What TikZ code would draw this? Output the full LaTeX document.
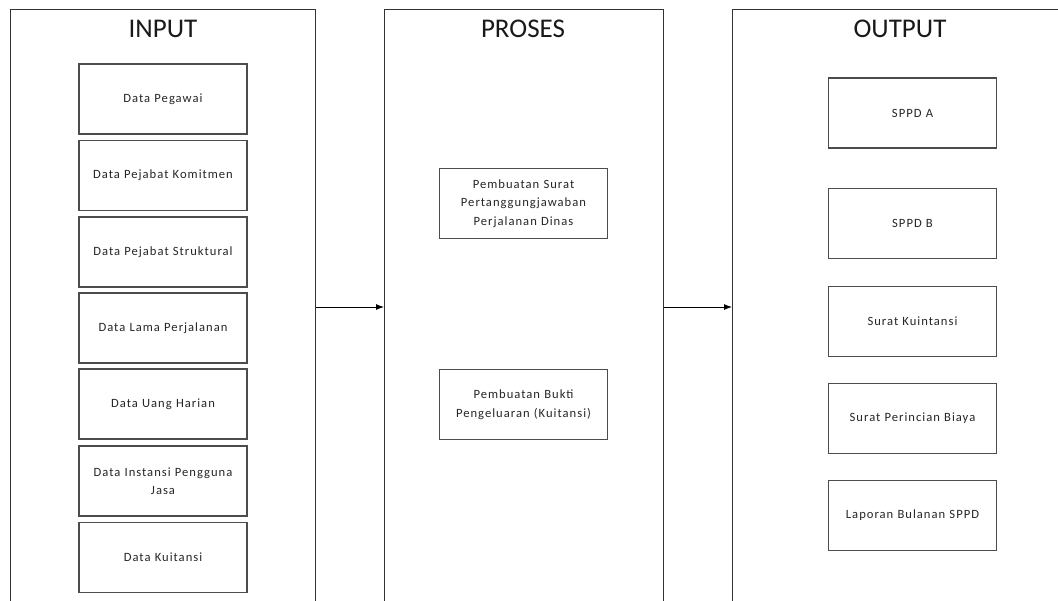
\documentclass[tikz,border=0pt]{standalone}
\usepackage{fontspec}
\setmainfont{Carlito}
\newfontfamily\boxfont[LetterSpace=8]{Carlito}
\usetikzlibrary{arrows.meta}
\begin{document}
\begin{tikzpicture}[x=1pt,y=-1pt,
  frame/.style={draw=black!80,line width=1.1pt,rectangle,inner sep=0pt,anchor=north west},
  title/.style={font=\fontsize{27}{30}\selectfont,text=black!90},
  item/.style={draw=black!70,line width=1.1pt,rectangle,minimum width=168pt,minimum height=70pt,
    align=center,text width=164pt,inner sep=0pt,font=\boxfont\fontsize{12.6}{18.5}\selectfont,text=black!85},
  flow/.style={draw=black,line width=0.9pt,-{Latex[length=8pt,width=6pt]}}]
\useasboundingbox (0,0) rectangle (1058,600);
\clip (0,0) rectangle (1058,600);
\fill[white] (0,0) rectangle (1058,600);

% three column frames (running past the lower edge)
\node[frame,minimum width=305pt,minimum height=620pt] (inbox) at (10,9) {};
\node[frame,minimum width=279pt,minimum height=620pt] (procbox) at (384,9) {};
\node[frame,minimum width=336pt,minimum height=620pt] (outbox) at (732,9) {};

\node[title] (tin) at (163,29) {INPUT};
\node[title] (tproc) at (523,29) {PROSES};
\node[title] (tout) at (900,29) {OUTPUT};

% input data
\node[item] (i1) at (163,99) {Data Pegawai};
\node[item] (i2) at (163,175.5) {Data Pejabat Komitmen};
\node[item] (i3) at (163,252) {Data Pejabat Struktural};
\node[item] (i4) at (163,328) {Data Lama Perjalanan};
\node[item] (i5) at (163,404) {Data Uang Harian};
\node[item] (i6) at (163,481) {Data Instansi Pengguna\\Jasa};
\node[item] (i7) at (163,557.5) {Data Kuitansi};

% processes
\node[item] (p1) at (523.5,203.5) {Pembuatan Surat\\Pertanggungjawaban\\Perjalanan Dinas};
\node[item] (p2) at (523.5,404.5) {Pembuatan Bukti\\Pengeluaran (Kuitansi)};

% outputs
\node[item] (o1) at (912.5,113) {SPPD A};
\node[item] (o2) at (912.5,223.5) {SPPD B};
\node[item] (o3) at (912.5,321.5) {Surat Kuintansi};
\node[item] (o4) at (912.5,418.5) {Surat Perincian Biaya};
\node[item] (o5) at (912.5,515.5) {Laporan Bulanan SPPD};

% flow between the columns
\coordinate (flowy) at (0,307);
\draw[flow] (inbox.east |- flowy) -- (procbox.west |- flowy);
\draw[flow] (procbox.east |- flowy) -- (outbox.west |- flowy);
\end{tikzpicture}
\end{document}
